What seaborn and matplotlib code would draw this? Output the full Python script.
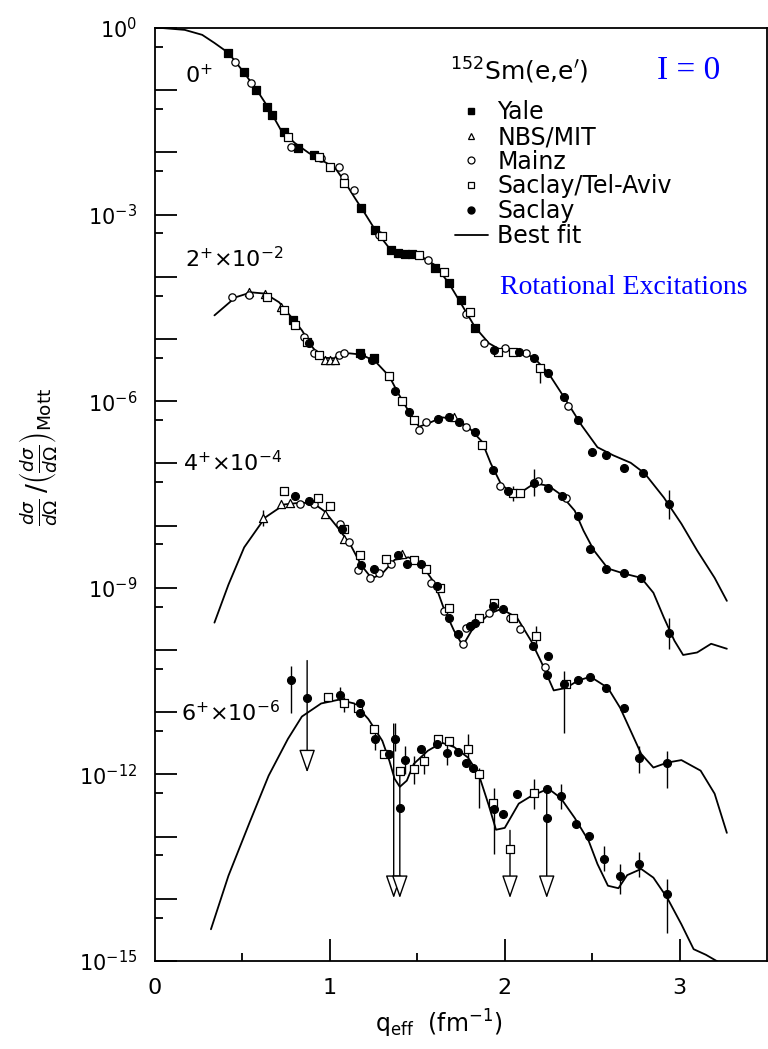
import numpy as np
import pandas as pd
import matplotlib
matplotlib.use('Agg')
import matplotlib.pyplot as plt
import seaborn as sns
from matplotlib.lines import Line2D
from matplotlib.ticker import FixedLocator, FixedFormatter

# --- best-fit curves (q_eff in fm^-1, log10 of cross section ratio) ---
q_fit_0 = [0.00, 0.04, 0.17, 0.27, 0.34, 0.42, 0.51, 0.59, 0.65, 0.72, 0.80, 0.88, 0.95, 1.03, 1.08,
           1.14, 1.20, 1.26, 1.34, 1.41, 1.51, 1.60, 1.68, 1.75, 1.83, 1.91, 1.98, 2.08, 2.17, 2.25,
           2.34, 2.44, 2.53, 2.62, 2.72, 2.80, 2.91, 3.01, 3.10, 3.20, 3.27]
log_fit_0 = [0.00, 0.00, -0.03, -0.11, -0.24, -0.40, -0.72, -1.03, -1.29, -1.64, -1.85, -2.01, -2.12, -2.25, -2.45,
             -2.72, -2.98, -3.25, -3.54, -3.65, -3.65, -3.81, -4.10, -4.43, -4.81, -5.07, -5.18, -5.18, -5.31, -5.55,
             -5.94, -6.39, -6.74, -6.87, -6.99, -7.16, -7.55, -7.97, -8.40, -8.84, -9.21]

q_fit_2 = [0.34, 0.46, 0.55, 0.63, 0.71, 0.78, 0.84, 0.90, 0.95, 1.03, 1.11, 1.18, 1.26, 1.34, 1.39,
           1.45, 1.51, 1.56, 1.64, 1.71, 1.79, 1.87, 1.92, 1.98, 2.04, 2.09, 2.17, 2.25, 2.32, 2.40,
           2.45, 2.51, 2.59, 2.68, 2.78, 2.85, 2.91, 2.97, 3.02, 3.10, 3.18, 3.27]
log_fit_2 = [-4.62, -4.33, -4.25, -4.27, -4.41, -4.65, -4.86, -5.13, -5.30, -5.31, -5.23, -5.25, -5.36, -5.60, -5.87,
             -6.16, -6.41, -6.36, -6.26, -6.28, -6.41, -6.65, -7.00, -7.34, -7.47, -7.47, -7.32, -7.36, -7.50, -7.76,
             -8.08, -8.40, -8.69, -8.77, -8.84, -9.08, -9.48, -9.85, -10.08, -10.04, -9.90, -9.98]

q_fit_4 = [0.34, 0.42, 0.51, 0.63, 0.74, 0.84, 0.91, 0.97, 1.05, 1.12, 1.18, 1.24, 1.30, 1.37, 1.45,
           1.52, 1.60, 1.65, 1.71, 1.76, 1.81, 1.91, 1.98, 2.07, 2.15, 2.21, 2.28, 2.35, 2.42, 2.49,
           2.59, 2.66, 2.72, 2.78, 2.85, 2.93, 3.01, 3.12, 3.20, 3.27]
log_fit_4 = [-9.56, -8.95, -8.35, -7.87, -7.66, -7.63, -7.65, -7.77, -8.05, -8.32, -8.64, -8.85, -8.77, -8.55, -8.51,
             -8.61, -8.93, -9.32, -9.69, -9.93, -9.69, -9.42, -9.34, -9.48, -9.85, -10.20, -10.65, -10.61, -10.49, -10.43,
             -10.61, -10.93, -11.30, -11.67, -11.89, -11.81, -11.77, -11.94, -12.31, -12.94]

q_fit_6 = [0.32, 0.42, 0.54, 0.65, 0.76, 0.84, 0.95, 1.05, 1.14, 1.22, 1.30, 1.34, 1.37, 1.40, 1.44,
           1.48, 1.56, 1.64, 1.71, 1.79, 1.85, 1.91, 1.95, 2.00, 2.08, 2.15, 2.25, 2.32, 2.40, 2.48,
           2.53, 2.59, 2.65, 2.70, 2.78, 2.85, 2.93, 3.01, 3.08, 3.15, 3.23]
log_fit_6 = [-14.49, -13.63, -12.78, -12.02, -11.43, -11.07, -10.86, -10.80, -10.86, -11.11, -11.46, -11.78, -12.07, -12.20, -12.10,
             -11.83, -11.62, -11.49, -11.56, -11.73, -11.99, -12.51, -12.89, -12.86, -12.47, -12.35, -12.23, -12.38, -12.70, -13.07,
             -13.44, -13.79, -13.83, -13.62, -13.52, -13.66, -13.99, -14.41, -14.81, -14.90, -15.03]

# --- measured points, by laboratory ---
yale_q = [0.42, 0.51, 0.58, 0.64, 0.67, 0.74, 0.82, 0.91, 1.18, 1.26, 1.35, 1.39, 1.43, 1.47, 1.60, 1.68, 1.75, 1.83,
          0.79, 1.17, 1.25]
yale_log = [-0.40, -0.71, -1.00, -1.27, -1.40, -1.67, -1.93, -2.04, -2.90, -3.25, -3.57, -3.62, -3.64, -3.64, -3.86, -4.10, -4.38, -4.83,
            -4.70, -5.23, -5.31]

nbs_q = [0.54, 0.63, 0.72, 0.97, 1.00, 1.03, 1.71, 0.62, 0.72, 0.77, 0.97, 1.08, 1.41]
nbs_log = [-4.25, -4.27, -4.49, -5.34, -5.34, -5.34, -6.26, -7.87, -7.65, -7.63, -7.81, -8.21, -8.45]

mainz_q = [0.46, 0.55, 0.78, 0.95, 1.05, 1.08, 1.14, 1.28, 1.56, 1.78, 1.88, 2.00, 2.12, 2.36,
           0.44, 0.54, 0.85, 0.91, 1.05, 1.08, 1.51, 1.55, 1.78, 1.97, 2.19, 2.35,
           0.83, 0.91, 1.06, 1.11, 1.16, 1.23, 1.28, 1.35, 1.58, 1.65, 1.76, 1.78, 1.91, 2.03, 2.09, 2.23]
mainz_log = [-0.55, -0.89, -1.92, -2.09, -2.24, -2.40, -2.61, -3.33, -3.73, -4.59, -5.07, -5.15, -5.23, -6.07,
             -4.33, -4.30, -4.97, -5.23, -5.26, -5.23, -6.47, -6.34, -6.42, -7.36, -7.28, -7.56,
             -7.65, -7.65, -7.97, -8.27, -8.71, -8.84, -8.77, -8.61, -8.93, -9.37, -9.90, -9.64, -9.40, -9.48, -9.66, -10.28]

tav_q = [0.76, 0.94, 1.00, 1.08, 1.30, 1.51, 1.65, 1.80, 1.96, 2.05, 2.20,
         0.64, 0.74, 0.80, 0.87, 0.94, 1.34, 1.41, 1.48, 1.87, 2.05, 2.09,
         0.74, 0.93, 1.00, 1.08, 1.17, 1.32, 1.48, 1.55, 1.63, 1.68, 1.85, 1.94, 2.05, 2.18, 2.35,
         0.99, 1.08, 1.16, 1.25, 1.31, 1.40, 1.48, 1.54, 1.62, 1.68, 1.79, 1.85, 1.93, 2.03, 2.17]
tav_log = [-1.75, -2.08, -2.24, -2.49, -3.35, -3.65, -3.93, -4.57, -5.21, -5.21, -5.46,
           -4.33, -4.54, -4.78, -5.05, -5.26, -5.59, -5.99, -6.31, -6.71, -7.48, -7.48,
           -7.44, -7.55, -7.68, -8.05, -8.48, -8.53, -8.56, -8.69, -9.00, -9.32, -9.48, -9.25, -9.48, -9.77, -10.54,
           -10.75, -10.85, -10.94, -11.27, -11.67, -11.94, -11.91, -11.78, -11.43, -11.46, -11.59, -11.99, -12.46, -13.20, -12.30]

saclay_q = [1.94, 2.08, 2.17, 2.25, 2.34, 2.42, 2.50, 2.58, 2.68, 2.79, 2.94,
            0.88, 1.18, 1.24, 1.37, 1.45, 1.62, 1.68, 1.74, 1.83, 1.93, 2.02, 2.17, 2.25, 2.33, 2.42, 2.49, 2.58,
            2.68, 2.78, 2.94,
            0.80, 0.88, 1.07, 1.18, 1.25, 1.39, 1.44, 1.52, 1.61, 1.68, 1.73, 1.80, 1.83, 1.93, 1.99, 2.16, 2.25,
            2.24, 2.34, 2.42, 2.49, 2.58, 2.68, 2.77, 2.93,
            0.78, 0.87, 1.06, 1.17, 1.17, 1.26, 1.34, 1.37, 1.40, 1.43, 1.52, 1.61, 1.67, 1.73, 1.78, 1.82, 1.94,
            1.99, 2.07, 2.24, 2.24, 2.32, 2.41, 2.48, 2.57, 2.66, 2.77, 2.93]
saclay_log = [-5.18, -5.21, -5.30, -5.54, -5.94, -6.31, -6.82, -6.86, -7.07, -7.16, -7.65,
              -5.07, -5.25, -5.34, -5.83, -6.18, -6.28, -6.25, -6.34, -6.50, -7.11, -7.44, -7.32, -7.39, -7.52, -7.84, -8.37, -8.69,
              -8.77, -8.84, -9.72,
              -7.52, -7.60, -8.05, -8.63, -8.69, -8.48, -8.61, -8.61, -8.97, -9.48, -9.74, -9.61, -9.56, -9.29, -9.34, -9.93, -10.09,
              -10.41, -10.54, -10.49, -10.43, -10.61, -10.93, -11.73, -11.81,
              -10.48, -10.77, -10.72, -10.86, -11.01, -11.43, -11.67, -11.43, -12.54, -11.77, -11.59, -11.51, -11.65, -11.64, -11.81, -11.89, -12.55,
              -12.63, -12.31, -12.23, -12.70, -12.35, -12.80, -12.99, -13.36, -13.63, -13.44, -13.92]

# error bars (log10 low / high)
err_q = [2.20, 2.94, 2.05, 2.17, 2.94, 0.62, 2.18, 2.34, 2.77, 2.93, 0.78, 1.06, 1.08, 1.26, 1.37, 1.43, 1.48,
         1.54, 1.67, 1.79, 1.85, 1.94, 2.17, 2.32, 2.57, 2.66, 2.77, 2.93]
err_lo = [-5.70, -7.90, -7.61, -7.52, -9.98, -8.00, -9.95, -11.33, -11.97, -12.22, -11.01, -10.85, -11.00, -11.60, -11.62, -12.00, -12.15,
          -12.00, -11.85, -11.80, -12.54, -13.28, -12.55, -12.55, -13.55, -13.92, -13.65, -14.55]
err_hi = [-5.40, -7.42, -7.36, -7.09, -9.48, -7.75, -9.62, -10.33, -11.54, -11.62, -10.25, -10.60, -10.75, -11.25, -11.17, -11.55, -11.70,
          -11.60, -11.45, -11.35, -11.90, -12.22, -12.08, -12.15, -13.15, -13.44, -13.25, -13.68]

# upper limits (arrows)
ul_q = [0.87, 1.365, 1.40, 2.03, 2.24]
ul_top = [-10.17, -11.19, -11.90, -12.90, -12.30]
ul_end = [-11.97, -13.99, -13.99, -13.99, -13.99]

state_labels = [r'0$^{+}$', r'2$^{+}$×10$^{-2}$', r'4$^{+}$×10$^{-4}$', r'6$^{+}$×10$^{-6}$']
state_label_q = [0.17, 0.17, 0.16, 0.15]
state_label_log = [-0.76, -3.70, -6.99, -11.0]

# ---------------------------------------------------------------
sns.set_style('ticks')
plt.rcParams['font.family'] = ['DejaVu Sans']
plt.rcParams['mathtext.fontset'] = 'dejavusans'
plt.rcParams['text.color'] = 'black'
plt.rcParams['xtick.color'] = 'black'
plt.rcParams['ytick.color'] = 'black'
plt.rcParams['axes.edgecolor'] = 'black'

curves = pd.concat([
    pd.DataFrame({'q': q_fit_0, 'sigma': 10.0 ** np.array(log_fit_0), 'state': '0+'}),
    pd.DataFrame({'q': q_fit_2, 'sigma': 10.0 ** np.array(log_fit_2), 'state': '2+'}),
    pd.DataFrame({'q': q_fit_4, 'sigma': 10.0 ** np.array(log_fit_4), 'state': '4+'}),
    pd.DataFrame({'q': q_fit_6, 'sigma': 10.0 ** np.array(log_fit_6), 'state': '6+'}),
])

fig = plt.figure(figsize=(7.68, 10.49), dpi=100)
ax = fig.add_axes([0.2018, 0.0839, 0.797, 0.8894])
ax.set_yscale('log')

sns.lineplot(data=curves, x='q', y='sigma', units='state', estimator=None, sort=False,
             color='black', linewidth=1.3, ax=ax, zorder=2)

# error bars and upper limits
ax.vlines(err_q, 10.0 ** np.array(err_lo), 10.0 ** np.array(err_hi), color='black', linewidth=1.0, zorder=2)
for q, top, end in zip(ul_q, ul_top, ul_end):
    ax.annotate('', xy=(q, 10.0 ** end), xytext=(q, 10.0 ** top),
                arrowprops=dict(arrowstyle='-|>,head_length=0.8,head_width=0.28', fc='white', ec='black',
                                lw=1.0, shrinkA=0, shrinkB=0, mutation_scale=18), zorder=2)

sources = [
    (yale_q, yale_log, 's', 'black', 28),
    (nbs_q, nbs_log, '^', 'white', 34),
    (mainz_q, mainz_log, 'o', 'white', 28),
    (tav_q, tav_log, 's', 'white', 38),
    (saclay_q, saclay_log, 'o', 'black', 32),
]
for xs, ls, mk, fc, size in sources:
    sns.scatterplot(x=xs, y=10.0 ** np.array(ls), marker=mk, color=fc, edgecolor='black',
                    linewidth=0.9, s=size, ax=ax, zorder=3, legend=False)

ax.set_xlim(0, 3.5)
ax.set_ylim(1e-15, 1)

# ticks
ax.xaxis.set_major_locator(FixedLocator([0, 1, 2, 3]))
ax.xaxis.set_minor_locator(FixedLocator([0.5, 1.5, 2.5]))
ax.set_xticklabels(['0', '1', '2', '3'])
majors = [10.0 ** k for k in range(0, -16, -1)]
ax.yaxis.set_major_locator(FixedLocator(majors))
ax.yaxis.set_major_formatter(FixedFormatter(
    [r'$10^{%d}$' % k if k % 3 == 0 else '' for k in range(0, -16, -1)]))
ax.yaxis.set_minor_locator(FixedLocator([5 * 10.0 ** k for k in range(-1, -16, -1)]))
ax.yaxis.set_minor_formatter(FixedFormatter([]))
ax.tick_params(axis='both', which='major', direction='in', length=16, width=1.3,
               color='black', labelcolor='black')
ax.tick_params(axis='both', which='minor', direction='in', length=6, width=1.3, color='black')
ax.tick_params(axis='x', which='major', labelsize=16, pad=12)
ax.tick_params(axis='y', which='major', labelsize=15, pad=13)
ax.tick_params(top=False, right=False, which='both')
# no tick at the origin corner
ax.xaxis.get_major_ticks()[0].tick1line.set_visible(False)
for s in ax.spines.values():
    s.set_linewidth(1.3)
    s.set_color('black')
    s.set_visible(True)

ax.set_xlabel('')
ax.set_ylabel('')
fig.text(439 / 768, 1 - 1024 / 1049, r'q$_{\rm eff}$  (fm$^{-1}$)', fontsize=17, ha='center', va='center')
fig.text(38 / 768, 1 - 457 / 1049,
         r'$\frac{d\sigma}{d\Omega}\,/\left(\frac{d\sigma}{d\Omega}\right)_{\rm Mott}$',
         fontsize=19, rotation=90, ha='center', va='center')

for lab, q, lg in zip(state_labels, state_label_q, state_label_log):
    ax.text(q, 10.0 ** lg, lab, fontsize=16, ha='left', va='center')

# legend block
ax.text(0.482, 0.954, r'$^{152}$Sm(e,e$^{\prime}$)', transform=ax.transAxes, fontsize=18,
        ha='left', va='center')
ax.text(0.820, 0.954, 'I = 0', transform=ax.transAxes, fontsize=24, color='#0000ff',
        family=['Liberation Serif', 'DejaVu Serif'], ha='left', va='center')
ax.text(0.564, 0.722, 'Rotational Excitations', transform=ax.transAxes, fontsize=20, color='#0000ff',
        family=['Liberation Serif', 'DejaVu Serif'], ha='left', va='center')

handles = [
    Line2D([], [], ls='none', marker='s', mfc='black', mec='black', ms=5),
    Line2D([], [], ls='none', marker='^', mfc='white', mec='black', ms=5, mew=0.9),
    Line2D([], [], ls='none', marker='o', mfc='white', mec='black', ms=5, mew=0.9),
    Line2D([], [], ls='none', marker='s', mfc='white', mec='black', ms=5, mew=0.9),
    Line2D([], [], ls='none', marker='o', mfc='black', mec='black', ms=5),
    Line2D([], [], color='black', lw=1.3),
]
labels = ['Yale', 'NBS/MIT', 'Mainz', 'Saclay/Tel-Aviv', 'Saclay', 'Best fit']
ax.legend(handles, labels, loc='upper left', bbox_to_anchor=(0.490, 0.9225), frameon=False,
          fontsize=17, handlelength=1.4, handletextpad=0.4, labelspacing=0.03,
          borderpad=0, borderaxespad=0, labelcolor='black')

fig.savefig('out.png', dpi=100, facecolor='white')
